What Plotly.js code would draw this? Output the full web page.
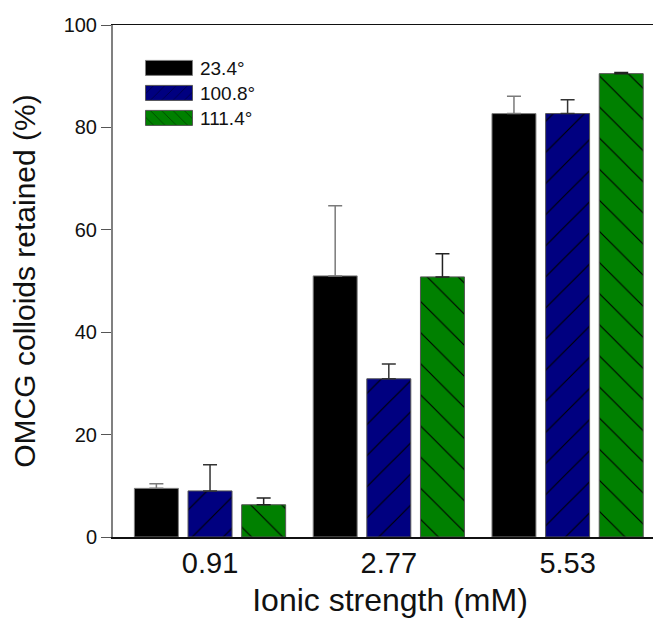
<!DOCTYPE html>
<html>
<head>
<meta charset="utf-8">
<script src="https://cdn.plot.ly/plotly-3.0.1.min.js"></script>
<style>
  html, body { margin: 0; padding: 0; background: #fff; overflow: hidden; width: 653px; height: 618px; }
  #chart { width: 667px; height: 618px; }
</style>
</head>
<body>
<div id="chart"></div>
<script>
// ---- data ----
const categories = ["0.91", "2.77", "5.53"];
const seriesNames = ["23.4°", "100.8°", "111.4°"];
const values234 = [9.5, 51.0, 82.7];
const errors234 = [0.9, 13.7, 3.4];
const values1008 = [9.0, 30.9, 82.7];
const errors1008 = [5.1, 2.9, 2.7];
const values1114 = [6.3, 50.8, 90.5];
const errors1114 = [1.3, 4.5, 0.2];

const FONT = "Liberation Sans, Arial, Helvetica, sans-serif";

function makeTrace(name, vals, errs, color, lineColor, errColor, pattern) {
  return {
    type: "bar",
    name: name,
    x: categories,
    y: vals,
    marker: {
      color: color,
      line: { color: lineColor, width: 1 },
      pattern: pattern
    },
    error_y: {
      type: "data",
      symmetric: false,
      array: errs,
      arrayminus: errs.map(() => 0),
      color: errColor,
      thickness: 1.5,
      width: 7
    },
    hoverinfo: "x+y+name"
  };
}

const traces = [
  makeTrace(seriesNames[0], values234, errors234, "#000000", "#7f7f7f", "#7a7a7a", { shape: "" }),
  makeTrace(seriesNames[1], values1008, errors1008, "#000080", "#555555", "#333333",
    { shape: "/", fgcolor: "#000000", bgcolor: "#000080", size: 22, solidity: 0.05, fillmode: "replace" }),
  makeTrace(seriesNames[2], values1114, errors1114, "#008000", "#555555", "#222222",
    { shape: "\\", fgcolor: "#000000", bgcolor: "#008000", size: 22, solidity: 0.05, fillmode: "replace" })
];

const layout = {
  width: 667,
  height: 618,
  margin: { l: 113, r: 0, t: 25, b: 81 },
  paper_bgcolor: "#ffffff",
  plot_bgcolor: "#ffffff",
  font: { family: FONT, color: "#111111" },
  barmode: "group",
  bargap: 0.1,
  bargroupgap: 0.18,
  showlegend: true,
  legend: {
    x: 0.0451, xanchor: "left",
    y: 0.953, yanchor: "top",
    bgcolor: "rgba(0,0,0,0)",
    borderwidth: 0,
    font: { family: FONT, size: 19, color: "#111111" },
    itemwidth: 52,
    tracegroupgap: 0,
    traceorder: "normal"
  },
  xaxis: {
    type: "category",
    categoryorder: "array",
    categoryarray: categories,
    range: [-0.5427, 2.556],
    showline: true,
    linecolor: "#111111",
    linewidth: 1.5,
    mirror: true,
    ticks: "",
    showgrid: false,
    zeroline: false,
    tickfont: { family: FONT, size: 29, color: "#111111" },
    title: { text: "Ionic strength (mM)", font: { family: FONT, size: 32, color: "#111111" }, standoff: 16 }
  },
  yaxis: {
    range: [0, 100],
    dtick: 20,
    tick0: 0,
    showline: true,
    linecolor: "#808080",
    linewidth: 2,
    ticks: "outside",
    ticklen: 10,
    tickwidth: 1,
    tickcolor: "#555555",
    showgrid: false,
    zeroline: false,
    tickfont: { family: FONT, size: 20, color: "#111111" },
    title: { text: "OMCG colloids retained (%)", font: { family: FONT, size: 30, color: "#111111" }, standoff: 19 }
  }
};

function fixLegend() {
  const gd = document.getElementById("chart");
  gd.querySelectorAll(".legend .legendpoints path").forEach(p => {
    p.setAttribute("d", "M-23.5,7.5H23.5V-7.5H-23.5Z");
  });
  const items = gd.querySelectorAll(".legend .traces");
  if (items.length) {
    const m = /translate\(\s*([-\d.]+)[ ,]+([-\d.]+)\s*\)/.exec(items[0].getAttribute("transform") || "");
    if (m) {
      const x0 = parseFloat(m[1]), y0 = parseFloat(m[2]);
      items.forEach((it, i) => it.setAttribute("transform", "translate(" + x0 + "," + (y0 + i * 25) + ")"));
    }
  }
}

Plotly.newPlot("chart", traces, layout, { displayModeBar: false, staticPlot: true }).then(gd => {
  fixLegend();
  gd.on("plotly_afterplot", fixLegend);
});
</script>
</body>
</html>
